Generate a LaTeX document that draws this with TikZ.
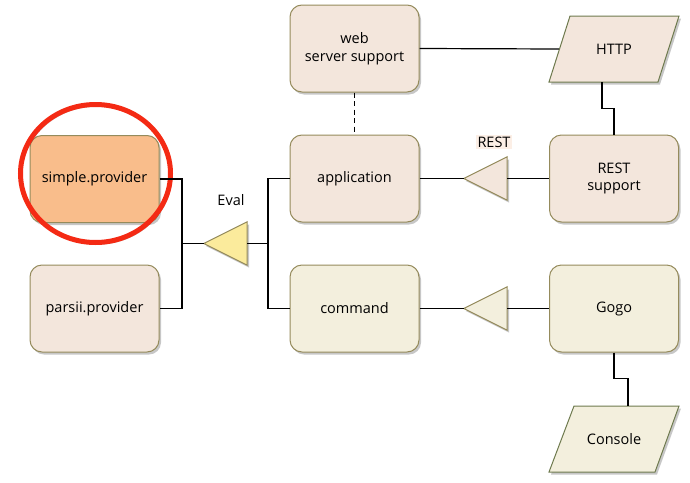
\documentclass[tikz,border=0pt]{standalone}
\usepackage{fontspec}
\setmainfont{Open Sans}
\usetikzlibrary{shadows,calc}
\definecolor{beige}{HTML}{F3E6DC}
\definecolor{cream}{HTML}{F3EFDD}
\definecolor{olive}{HTML}{958B5C}
\definecolor{darkolive}{HTML}{6E7A4E}
\definecolor{orangefill}{HTML}{F9BD8B}
\definecolor{evalyellow}{HTML}{FBEB9C}
\definecolor{ringred}{HTML}{F42A14}
\definecolor{labelbg}{HTML}{FCEFE6}
\begin{document}
\begin{tikzpicture}[x=1pt,y=-1pt,
  font=\fontsize{14.5}{17.5}\selectfont,
  shad/.style={drop shadow={shadow xshift=2pt,shadow yshift=-2.5pt,opacity=0.22,fill=black}},
  box/.style={draw=olive, line width=1pt, rounded corners=12pt, minimum width=129pt,
    minimum height=87pt, align=center, inner sep=0pt, shad},
  para/.style={draw=darkolive, line width=1pt, shad},
  holder/.style={inner sep=0pt, align=center},
  tri/.style={draw=olive, line width=1pt, shad, line join=miter},
  conn/.style={line width=1.2pt, black},
]
\useasboundingbox (0,0) rectangle (690,482);
% boxes
\node[box, fill=beige] (web) at (354.5,48.5) {web\\server support};
\node[box, fill=beige] (app) at (354.5,178.5) {application};
\node[box, fill=beige] (rests) at (614,178.5) {REST\\support};
\node[box, fill=cream] (cmd) at (354.5,308.5) {command};
\node[box, fill=cream] (gogo) at (614,308.5) {Gogo};
\node[box, fill=orangefill] (simple) at (94.5,179) {simple.provider};
\node[box, fill=beige] (parsii) at (94.5,308.5) {parsii.provider};
% parallelograms
\draw[para, fill=beige] (549,82) -- (658,82) -- (679,16) -- (570,16) -- cycle;
\node[holder, minimum width=110pt, minimum height=66pt] (http) at (614,49) {HTTP};
\draw[para, fill=cream] (549,472) -- (655,472) -- (679,406) -- (574,406) -- cycle;
\node[holder, minimum width=112pt, minimum height=66pt] (console) at (614,439) {Console};
% triangles
\node[holder, minimum width=43pt, minimum height=43pt] (evaltri) at (225.5,243.5) {};
\draw[tri, fill=evalyellow] (evaltri.west) -- (evaltri.north east) -- (evaltri.south east) -- cycle;
\node[holder, minimum width=43pt, minimum height=43pt] (resttri) at (485.5,178.5) {};
\draw[tri, fill=beige] (resttri.west) -- (resttri.north east) -- (resttri.south east) -- cycle;
\node[holder, minimum width=43pt, minimum height=43pt] (cmdtri) at (485.5,308.5) {};
\draw[tri, fill=cream] (cmdtri.west) -- (cmdtri.north east) -- (cmdtri.south east) -- cycle;
% labels
\node[holder] (evallbl) at (231,200) {Eval};
\node[fill=labelbg, inner sep=1.5pt] (restlbl) at (494,142) {REST};
% ring
\draw[ringred, line width=5pt, drop shadow={shadow xshift=1.5pt,shadow yshift=-2pt,opacity=0.25,fill=none,draw=black}] (95.5,173.5) ellipse [x radius=75, y radius=69];
% connectors
\coordinate (busL) at (182,243.5);
\coordinate (busR) at (268,243.5);
\draw[conn] (simple.east) -| (busL) |- (parsii.east);
\draw[conn] (busL) -- (evaltri.west);
\draw[conn] (evaltri.east) -- (busR);
\draw[conn] (app.west) -| (busR) |- (cmd.west);
\draw[conn] (web.east) -- (http.west);
\draw[conn, dashed, dash pattern=on 5pt off 3.5pt] (web.south) -- (app.north);
\draw[conn] (app.east) -- (resttri.west);
\draw[conn] (resttri.east) -- (rests.west);
\draw[conn] (cmd.east) -- (cmdtri.west);
\draw[conn] (cmdtri.east) -- (gogo.west);
\draw[conn] ($(http.south)+(-12,0)$) -- ++(0,26) -| (rests.north);
\draw[conn] (gogo.south) -- ++(0,26) -| ($(console.north)+(14,0)$);
\end{tikzpicture}
\end{document}
